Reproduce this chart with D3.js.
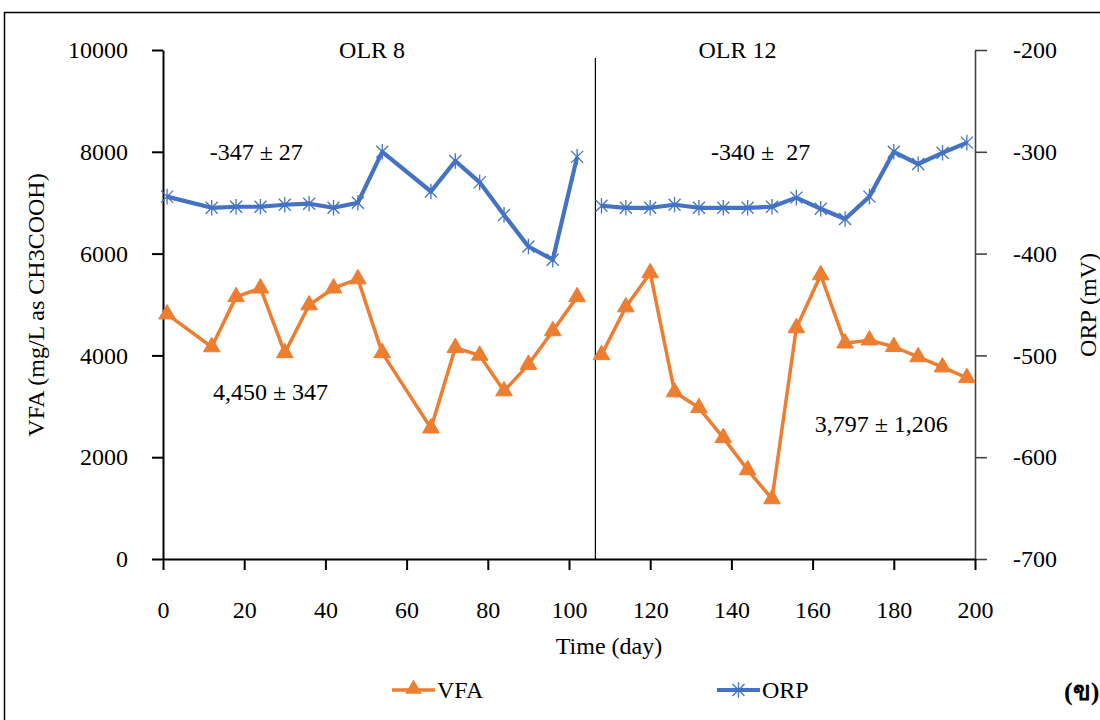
<!DOCTYPE html>
<html>
<head>
<meta charset="utf-8">
<script src="https://cdn.jsdelivr.net/npm/d3@7"></script>
<style>
  body { margin: 0; background: #fff; }
</style>
</head>
<body>
<div id="chart"></div>
<script>
// data
const orpDays8 = [1, 12, 18, 24, 30, 36, 42, 48, 54, 66, 72, 78, 84, 90, 96, 102];
const orpDays12 = [108, 114, 120, 126, 132, 138, 144, 150, 156, 162, 168, 174, 180, 186, 192, 198];
const orp8 = [-344, -355, -354, -354, -352, -351, -355, -350, -300, -339, -309, -330, -362, -393, -406, -305];
const orp12 = [-353, -355, -355, -352, -355, -355, -355, -354, -345, -356, -366, -344, -300, -312, -301, -291];
const vfa8 = [4810, 4165, 5150, 5320, 4050, 4990, 5320, 5500, 4050, 2570, 4150, 4000, 3300, 3820, 4480, 5150];
const vfa12 = [4010, 4950, 5620, 3280, 2970, 2380, 1750, 1180, 4540, 5580, 4240, 4300, 4170, 3970, 3770, 3560];
const xTicks = [0, 20, 40, 60, 80, 100, 120, 140, 160, 180, 200];
const vfaTicks = [0, 2000, 4000, 6000, 8000, 10000];
const orpTicks = [-700, -600, -500, -400, -300, -200];
const phaseSplit = 106.5;
const phaseLabels = [{ text: "OLR 8", day: 51.5 }, { text: "OLR 12", day: 141.5 }];
const notes = [
  { text: "-347 ± 27", day: 11.5, side: "orp", v: -300 },
  { text: "-340 ±  27", day: 135, side: "orp", v: -300 },
  { text: "4,450 ± 347", day: 12.3, side: "vfa", v: 3280 },
  { text: "3,797 ± 1,206", day: 160.5, side: "vfa", v: 2650 }
];

const W = 1100, H = 720;
const orange = "#ED7D31", blue = "#4472C4";
const FONT = "'Times New Roman', 'Liberation Serif', Tinos, serif";
const FS = "24px";

const svg = d3.select("#chart").append("svg")
  .attr("width", W).attr("height", H)
  .style("font-family", FONT);

// outer frame
svg.append("rect")
  .attr("x", 4.5).attr("y", 12.5)
  .attr("width", W + 20).attr("height", H + 20)
  .attr("fill", "none").attr("stroke", "#000").attr("stroke-width", 1.5);

const x = d3.scaleLinear().domain([0, 200]).range([163, 975]);
const yL = d3.scaleLinear().domain([0, 10000]).range([559, 50]);
const yR = d3.scaleLinear().domain([-700, -200]).range([559, 50]);

// axes
const axL = svg.append("g").attr("transform", "translate(163,0)")
  .call(d3.axisLeft(yL).tickValues(vfaTicks).tickSize(11).tickSizeOuter(0).tickPadding(24).tickFormat(d => String(d)));
const axR = svg.append("g").attr("transform", "translate(975,0)")
  .call(d3.axisRight(yR).tickValues(orpTicks).tickSize(12).tickSizeOuter(0).tickPadding(26).tickFormat(d => String(d)));
const axB = svg.append("g").attr("transform", "translate(0,559)")
  .call(d3.axisBottom(x).tickValues(xTicks).tickSize(11).tickSizeOuter(0).tickPadding(31).tickFormat(d => String(d)));

[axL, axR, axB].forEach(g => {
  g.attr("font-family", null).attr("font-size", null);
  g.selectAll("text").style("font-size", FS).style("font-family", FONT).attr("fill", "#000");
});
axL.selectAll("path, line").attr("stroke", "#000").attr("stroke-width", 2);
axB.selectAll("path, line").attr("stroke", "#000").attr("stroke-width", 2);
axR.selectAll("path, line").attr("stroke", "#444").attr("stroke-width", 1.6);

// phase divider
svg.append("line")
  .attr("x1", x(phaseSplit)).attr("x2", x(phaseSplit))
  .attr("y1", 58).attr("y2", 559)
  .attr("stroke", "#000").attr("stroke-width", 1.2);

svg.selectAll(".phase").data(phaseLabels).enter().append("text")
  .attr("x", d => x(d.day)).attr("y", 58)
  .attr("text-anchor", "middle").style("font-size", FS)
  .text(d => d.text);

// lines
const vfaLine = d3.line().x(d => x(d[0])).y(d => yL(d[1]));
const orpLine = d3.line().x(d => x(d[0])).y(d => yR(d[1]));

const vfaSets = [d3.zip(orpDays8, vfa8), d3.zip(orpDays12, vfa12)];
const orpSets = [d3.zip(orpDays8, orp8), d3.zip(orpDays12, orp12)];

vfaSets.forEach(s => {
  svg.append("path").attr("d", vfaLine(s))
    .attr("fill", "none").attr("stroke", orange).attr("stroke-width", 3.5)
    .attr("stroke-linejoin", "round");
});
orpSets.forEach(s => {
  svg.append("path").attr("d", orpLine(s))
    .attr("fill", "none").attr("stroke", blue).attr("stroke-width", 4.2)
    .attr("stroke-linejoin", "round");
});

// markers
const tri = d3.symbol().type(d3.symbolTriangle).size(120);
const starPath = r => `M${-r},${-r}L${r},${r}M${-r},${r}L${r},${-r}M0,${-r * 1.3}L0,${r * 1.3}`;

vfaSets.forEach(s => {
  svg.selectAll(null).data(s).enter().append("path")
    .attr("d", tri)
    .attr("transform", d => `translate(${x(d[0])},${yL(d[1])})`)
    .attr("fill", orange).attr("stroke", orange).attr("stroke-width", 1);
});
orpSets.forEach(s => {
  svg.selectAll(null).data(s).enter().append("path")
    .attr("d", starPath(6))
    .attr("transform", d => `translate(${x(d[0])},${yR(d[1])})`)
    .attr("fill", "none").attr("stroke", blue).attr("stroke-width", 1.3);
});

// annotations
svg.selectAll(".note").data(notes).enter().append("text")
  .attr("x", d => x(d.day))
  .attr("y", d => (d.side === "orp" ? yR(d.v) : yL(d.v)) + 8)
  .style("font-size", FS).style("white-space", "pre")
  .text(d => d.text);

// axis titles
svg.append("text")
  .attr("transform", "translate(44,305) rotate(-90)")
  .attr("text-anchor", "middle").style("font-size", FS)
  .text("VFA (mg/L as CH3COOH)");
svg.append("text")
  .attr("transform", "translate(1096,305) rotate(-90)")
  .attr("text-anchor", "middle").style("font-size", FS)
  .text("ORP (mV)");
svg.append("text")
  .attr("x", 609).attr("y", 654)
  .attr("text-anchor", "middle").style("font-size", FS)
  .text("Time (day)");

// legend
const legend = [
  { name: "VFA", color: orange, x0: 392, kind: "tri" },
  { name: "ORP", color: blue, x0: 717, kind: "star" }
];
legend.forEach(l => {
  const g = svg.append("g").attr("transform", `translate(${l.x0},690)`);
  g.append("line").attr("x1", 0).attr("x2", 43).attr("y1", 0).attr("y2", 0)
    .attr("stroke", l.color).attr("stroke-width", l.kind === "tri" ? 3.5 : 4.2);
  if (l.kind === "tri") {
    g.append("path").attr("d", tri).attr("transform", "translate(21.5,-1)").attr("fill", l.color);
  } else {
    g.append("path").attr("d", starPath(6)).attr("transform", "translate(21.5,0)")
      .attr("fill", "none").attr("stroke", l.color).attr("stroke-width", 1.3);
  }
  g.append("text").attr("x", 45).attr("y", 8).style("font-size", FS).text(l.name);
});

svg.append("text")
  .attr("x", 1064).attr("y", 700)
  .style("font-size", "26px").style("font-weight", "bold")
  .text("(ข)");
</script>
</body>
</html>
